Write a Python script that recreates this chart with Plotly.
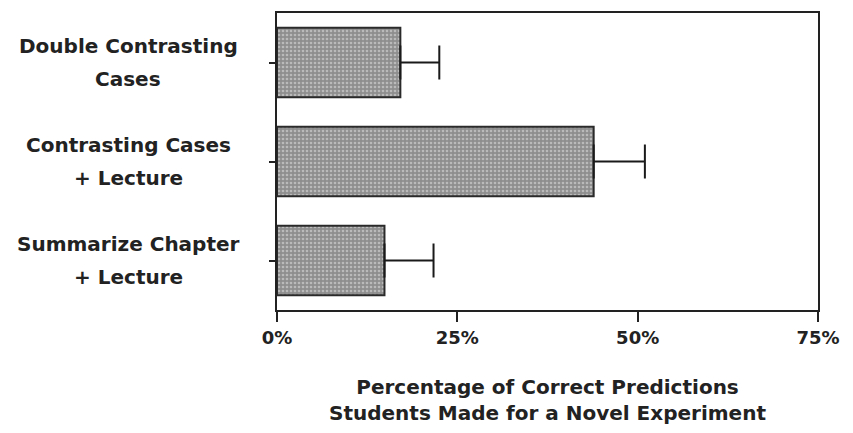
import plotly.graph_objects as go

categories = ["Double Contrasting<br>Cases", "Contrasting Cases<br>+ Lecture", "Summarize Chapter<br>+ Lecture"]
values = [17.1, 43.9, 14.9]
errors = [5.4, 7.1, 6.8]
x_ticks = [0, 25, 50, 75]
x_tick_labels = ["0%", "25%", "50%", "75%"]
x_title = "Percentage of Correct Predictions<br>Students Made for a Novel Experiment"

FONT = "DejaVu Sans"

fig = go.Figure()
fig.add_trace(go.Bar(
    x=values, y=categories, orientation="h", width=0.7,
    marker=dict(color="#8e8e8e", line=dict(color="#2a2a2a", width=2),
                pattern=dict(shape=".", fgcolor="#e6e6e6", bgcolor="#8e8e8e", size=4, solidity=0.35)),
    error_x=dict(type="data", symmetric=False, array=errors, arrayminus=[0] * len(errors),
                 color="#1a1a1a", thickness=2, width=17),
))

# category labels: each line as its own centred annotation for wider line spacing
for c in categories:
    lines = c.split("<br>")
    n = len(lines)
    for i, line in enumerate(lines):
        fig.add_annotation(x=-0.275, xref="paper", y=c, yref="y", text=line, showarrow=False,
                           xanchor="center", yanchor="middle", align="center",
                           yshift=((n - 1) / 2 - i) * 33,
                           font=dict(family=FONT, size=20, color="#222", weight="bold"))

fig.update_layout(
    width=853, height=433, margin=dict(l=269, r=43, t=3, b=131),
    paper_bgcolor="white", plot_bgcolor="white", showlegend=False,
    xaxis=dict(range=[0, 75], tickvals=x_ticks, ticktext=x_tick_labels, showgrid=False, zeroline=False,
               showline=True, linecolor="#222", linewidth=2, mirror=True, ticks="outside", ticklen=10,
               tickwidth=2, tickcolor="#222",
               tickfont=dict(family=FONT, size=18, color="#222", weight="bold"),
               title=dict(text=x_title, standoff=33,
                          font=dict(family=FONT, size=20, color="#222", weight="bold"))),
    yaxis=dict(categoryorder="array", categoryarray=categories, autorange="reversed",
               showticklabels=False, showgrid=False, zeroline=False, showline=True, linecolor="#222",
               linewidth=2, mirror=True, ticks="outside", ticklen=6, tickwidth=2, tickcolor="#222"),
)

fig.write_html("out.html")
